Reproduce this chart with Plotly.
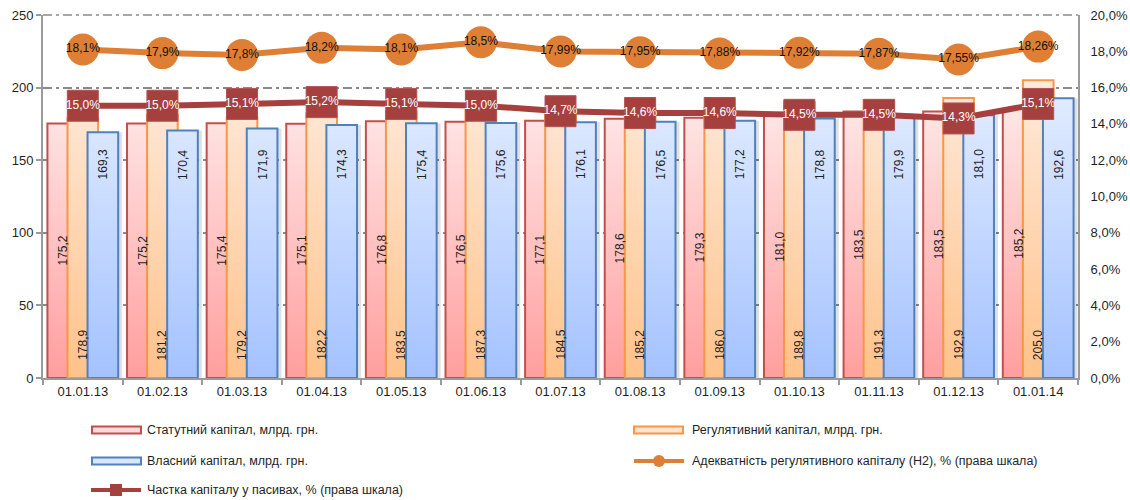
import plotly.graph_objects as go

# ---- data -------------------------------------------------------------
dates = ["01.01.13", "01.02.13", "01.03.13", "01.04.13", "01.05.13", "01.06.13",
         "01.07.13", "01.08.13", "01.09.13", "01.10.13", "01.11.13", "01.12.13",
         "01.01.14"]
statutory = [175.2, 175.2, 175.4, 175.1, 176.8, 176.5, 177.1, 178.6, 179.3, 181.0,
             183.5, 183.5, 185.2]
regulatory = [178.9, 181.2, 179.2, 182.2, 183.5, 187.3, 184.5, 185.2, 186.0, 189.8,
              191.3, 192.9, 205.0]
own_capital = [169.3, 170.4, 171.9, 174.3, 175.4, 175.6, 176.1, 176.5, 177.2, 178.8,
               179.9, 181.0, 192.6]
h2_labels = ["18,1", "17,9", "17,8", "18,2", "18,1", "18,5", "17,99", "17,95",
             "17,88", "17,92", "17,87", "17,55", "18,26"]
share_labels = ["15,0", "15,0", "15,1", "15,2", "15,1", "15,0", "14,7", "14,6",
                "14,6", "14,5", "14,5", "14,3", "15,1"]

h2 = [float(s.replace(",", ".")) for s in h2_labels]
share = [float(s.replace(",", ".")) for s in share_labels]

series_names = ["Статутний капітал, млрд. грн.",
                "Регулятивний капітал, млрд. грн.",
                "Власний капітал, млрд. грн.",
                "Адекватність регулятивного капіталу (Н2), % (права шкала)",
                "Частка капіталу у пасивах, % (права шкала)"]

# ---- styling ----------------------------------------------------------
FONT = "Liberation Sans, Arial, sans-serif"
TXT = "#1f1f1f"
AXIS = "#9a9a9a"
GRID = "#8a8a8a"
GRID_DASH = "9px,4px,3px,4px"
RED_EDGE, ORANGE_EDGE, BLUE_EDGE = "#C0504D", "#F79646", "#4F81BD"
RED_GRAD = [[0, "#FF9E9E"], [1, "#FFE6E6"]]
ORANGE_GRAD = [[0, "#FFC28A"], [1, "#FFEADB"]]
BLUE_GRAD = [[0, "#A4C2FF"], [1, "#E0EBFF"]]
H2_COLOR = "#DE7F35"
SHARE_COLOR = "#A5403F"

BAR_W = 0.385
STEP = 0.252
OFFSETS = [-(BAR_W / 2 + STEP), -BAR_W / 2, -BAR_W / 2 + STEP]
idx = list(range(len(dates)))


def bar_path(values, offset, dx=0.0):
    """Closed rectangles (one per category) for a filled scatter trace."""
    xs, ys = [], []
    for i, v in zip(idx, values):
        x0 = i + offset + dx
        x1 = x0 + BAR_W
        xs += [x0, x0, x1, x1, x0, None]
        ys += [0, v, v, 0, 0, None]
    return xs, ys


fig = go.Figure()


def add_bars(values, offset, grad, edge, name):
    xs, ys = bar_path(values, offset)
    fig.add_trace(go.Scatter(
        x=xs, y=ys, mode="lines", fill="toself", name=name,
        fillgradient=dict(type="vertical", colorscale=grad),
        line=dict(color=edge, width=2), hoverinfo="skip"))


add_bars(statutory, OFFSETS[0], RED_GRAD, RED_EDGE, series_names[0])
add_bars(regulatory, OFFSETS[1], ORANGE_GRAD, ORANGE_EDGE, series_names[1])

# soft shadow on the right of the own-capital bars
sx, sy = bar_path(own_capital, OFFSETS[2], dx=0.05)
fig.add_trace(go.Scatter(x=sx, y=sy, mode="lines", fill="toself",
                         fillcolor="rgba(0,0,0,0.12)", line=dict(width=0),
                         hoverinfo="skip"))
add_bars(own_capital, OFFSETS[2], BLUE_GRAD, BLUE_EDGE, series_names[2])

fig.add_trace(go.Scatter(
    x=idx, y=h2, yaxis="y2", name=series_names[3],
    mode="lines+markers+text",
    line=dict(color=H2_COLOR, width=6),
    marker=dict(size=32, color=H2_COLOR, line=dict(width=0)),
    text=[s + "%" for s in h2_labels], textposition="middle center",
    textfont=dict(family=FONT, size=12, color="#111111")))

fig.add_trace(go.Scatter(
    x=idx, y=share, yaxis="y2", name=series_names[4],
    mode="lines+markers+text",
    line=dict(color=SHARE_COLOR, width=6),
    marker=dict(size=31, symbol="square", color=SHARE_COLOR,
                line=dict(width=1, color="#B05352")),
    text=[s + "%" for s in share_labels], textposition="middle center",
    textfont=dict(family=FONT, size=12, color="white")))

# ---- value labels on bars --------------------------------------------
ann = []
for i in idx:
    ann.append(dict(x=i + OFFSETS[0] + BAR_W / 2, y=statutory[i] / 2,
                    text=f"{statutory[i]:.1f}".replace(".", ","),
                    textangle=-90, showarrow=False, yanchor="middle",
                    font=dict(family=FONT, size=12, color=TXT)))
    ann.append(dict(x=i + OFFSETS[1] + BAR_W / 2, y=0,
                    text=f"{regulatory[i]:.1f}".replace(".", ","),
                    textangle=-90, showarrow=False, yanchor="bottom", yshift=16,
                    font=dict(family=FONT, size=12, color=TXT)))
    ann.append(dict(x=i + OFFSETS[2] + BAR_W / 2, y=147,
                    text=f"{own_capital[i]:.1f}".replace(".", ","),
                    textangle=-90, showarrow=False, yanchor="middle",
                    font=dict(family=FONT, size=12, color=TXT)))

# ---- legend below the plot -------------------------------------------
L, R, T, B = 43, 52, 15, 122
W, H = 1130, 500
PW, PH = W - L - R, H - T - B


def px(x):
    return (x - L) / PW


def py(y):
    return (H - B - y) / PH


# top gridline, which sits on the upper edge of the plot area
shapes = [dict(type="line", xref="paper", yref="paper", x0=0, x1=1, y0=1, y1=1,
               layer="below", line=dict(color=GRID, width=1.5, dash=GRID_DASH))]


def bar_swatch(x0, yc, fill, edge):
    shapes.append(dict(type="rect", xref="paper", yref="paper",
                       x0=px(x0), x1=px(x0 + 49), y0=py(yc + 3.5), y1=py(yc - 3.5),
                       fillcolor=fill, line=dict(color=edge, width=2)))


def line_swatch(x0, yc, color, symbol):
    shapes.append(dict(type="line", xref="paper", yref="paper",
                       x0=px(x0), x1=px(x0 + 50), y0=py(yc), y1=py(yc),
                       line=dict(color=color, width=4)))
    c = x0 + 25
    r = 6
    shapes.append(dict(type="circle" if symbol == "circle" else "rect",
                       xref="paper", yref="paper",
                       x0=px(c - r), x1=px(c + r), y0=py(yc + r), y1=py(yc - r),
                       fillcolor=color, line=dict(color=color, width=0)))


rows = [430, 461, 490]
left_x, right_x = 92, 634
bar_swatch(left_x, rows[0], "#FFD9D9", RED_EDGE)
bar_swatch(right_x, rows[0], "#FFE3CC", ORANGE_EDGE)
bar_swatch(left_x, rows[1], "#D9E6FF", BLUE_EDGE)
line_swatch(right_x, rows[1], H2_COLOR, "circle")
line_swatch(left_x - 1, rows[2], SHARE_COLOR, "square")

legend_pos = [(left_x + 53, rows[0]), (right_x + 56, rows[0]),
              (left_x + 53, rows[1]), (right_x + 56, rows[1]),
              (left_x + 53, rows[2])]
for name, (lx, ly) in zip(series_names, legend_pos):
    ann.append(dict(xref="paper", yref="paper", x=px(lx), y=py(ly), text=name,
                    showarrow=False, xanchor="left", yanchor="middle",
                    font=dict(family=FONT, size=12.5, color=TXT)))

fig.update_layout(
    width=W, height=H,
    margin=dict(l=L, r=R, t=T, b=B, autoexpand=False),
    paper_bgcolor="white", plot_bgcolor="white",
    showlegend=False, separators=", ",
    font=dict(family=FONT, size=13, color=TXT),
    annotations=ann, shapes=shapes,
    xaxis=dict(range=[-0.5, 12.5], tickmode="array", tickvals=idx, ticktext=dates,
               ticks="", showline=True, linecolor=AXIS, linewidth=2,
               showgrid=False, zeroline=False, automargin=False,
               minor=dict(tickmode="array", tickvals=[i - 0.5 for i in range(14)],
                          ticks="outside", ticklen=5, tickcolor=AXIS, tickwidth=2,
                          showgrid=False)),
    yaxis=dict(range=[0, 250], tick0=0, dtick=50, showline=True, linecolor=AXIS,
               linewidth=2, ticks="outside", ticklen=5, tickcolor=AXIS, tickwidth=2,
               showgrid=True, gridcolor=GRID, gridwidth=1.5, automargin=False,
               griddash=GRID_DASH, zeroline=False),
    # right scale: no visible tick marks, labels set a little away from the line
    yaxis2=dict(range=[0, 20], tick0=0, dtick=2, overlaying="y", side="right",
                showline=True, linecolor=AXIS, linewidth=2, ticks="outside",
                ticklen=8, tickcolor="rgba(0,0,0,0)", tickformat=".1f",
                ticksuffix="%", showgrid=False, zeroline=False, automargin=False),
)

fig.write_html("out.html")
